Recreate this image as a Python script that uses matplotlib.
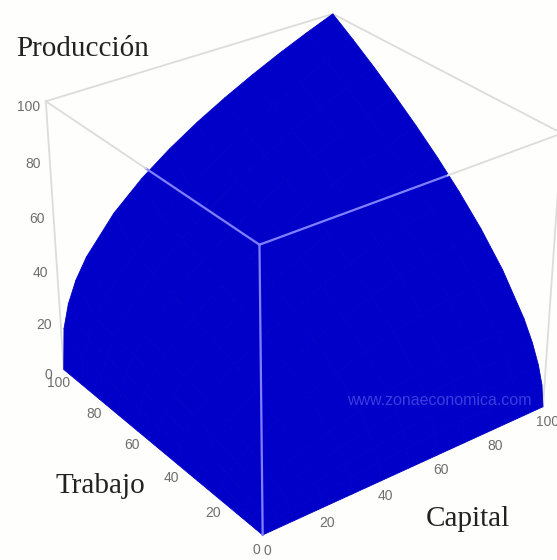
import matplotlib
matplotlib.use('Agg')
import matplotlib.pyplot as plt
import numpy as np

capital = [0, 1, 3, 6, 10, 20, 30, 40, 50, 60, 70, 80, 90, 100]
trabajo = [0, 1, 3, 6, 10, 20, 30, 40, 50, 60, 70, 80, 90, 100]
# produccion[trabajo][capital]
produccion = [
    [0, 0, 0, 0, 0, 0, 0, 0, 0, 0, 0, 0, 0, 0],
    [0, 1.0, 1.7, 2.5, 3.2, 4.5, 5.5, 6.3, 7.1, 7.7, 8.4, 7.5, 7.5, 7.9],
    [0, 1.7, 3.0, 4.2, 5.5, 7.7, 9.5, 10.9, 12.2, 13.4, 13.6, 13.7, 13.8, 14.5],
    [0, 2.5, 4.2, 6.0, 7.7, 11.0, 13.4, 15.5, 17.3, 19.0, 19.8, 20.0, 20.2, 21.3],
    [0, 3.2, 5.5, 7.7, 10, 14.1, 17.3, 20, 22.4, 24.5, 26.0, 26.4, 26.8, 28.2],
    [0, 4.5, 7.7, 11, 14.1, 20, 24.5, 28.3, 31.6, 34.6, 37.0, 38.5, 39.2, 41.3],
    [0, 5.5, 9.5, 13.4, 17.3, 24.5, 30, 34.6, 38.7, 42.4, 45.8, 47.5, 49, 51.6],
    [0, 6.3, 10.9, 15.5, 20, 28.3, 34.6, 40, 44.7, 49, 52.9, 55.5, 57.4, 60.4],
    [0, 7.1, 12.2, 17.3, 22.4, 31.6, 38.7, 44.7, 50, 54.8, 59.2, 62.5, 64.9, 68.3],
    [0, 7.7, 13.4, 19, 24.5, 34.6, 42.4, 49, 54.8, 60, 64.8, 69.3, 71.7, 75.5],
    [0, 8.4, 14.5, 20.5, 26.5, 37.4, 45.8, 52.9, 59.2, 64.8, 70, 74.8, 78.1, 82.2],
    [0, 8.9, 15.5, 21.9, 28.3, 40, 49, 56.6, 63.2, 69.3, 74.8, 80, 84.1, 88.5],
    [0, 9.5, 16.4, 23.2, 30, 42.4, 52, 60, 67.1, 73.5, 79.4, 84.9, 90, 94.4],
    [0, 15.8, 24.6, 32.5, 39.8, 52.5, 61.8, 69.3, 75.8, 81.5, 86.7, 91.5, 95.9, 100],
]
ticks = [0, 20, 40, 60, 80, 100]

# where the upper box edges leave the surface
corte_trabajo = 50
corte_capital = 60

bg = '#fefefc'
gris = '#dcdcdc'
claro = '#8080ff'

fig = plt.figure(figsize=(5.57, 5.60), dpi=100, facecolor=bg)
ax = fig.add_axes([14 / 557, 15 / 560, 1, 1], projection='3d', computed_zorder=False, facecolor=bg)
ax.view_init(elev=30, azim=-127)
ax.set_proj_type('persp', focal_length=0.7)
ax.set_box_aspect((1, 1, 0.88), zoom=1.03)

X, Y = np.meshgrid(capital, trabajo)
ax.plot_surface(X, Y, np.array(produccion), color='#0000c8', shade=False,
                edgecolor='#0000c8', linewidth=0.6, rstride=1, cstride=1, zorder=1)

# box edges, grey on the paper and light blue over the surface
ax.plot([0, 0], [0, 0], [0, 100], color=claro, lw=1.6, zorder=3)
ax.plot([0, 0], [0, corte_trabajo], [100, 100], color=claro, lw=1.6, zorder=3)
ax.plot([0, corte_capital], [0, 0], [100, 100], color=claro, lw=1.6, zorder=3)
ax.plot([0, 0], [corte_trabajo, 100], [100, 100], color=gris, lw=1.3, zorder=3)
ax.plot([corte_capital, 100], [0, 0], [100, 100], color=gris, lw=1.3, zorder=3)
ax.plot([0, 100], [100, 100], [100, 100], color=gris, lw=1.3, zorder=0)
ax.plot([100, 100], [0, 100], [100, 100], color=gris, lw=1.3, zorder=0)
ax.plot([0, 0], [100, 100], [0, 100], color=gris, lw=1.3, zorder=0)
ax.plot([100, 100], [0, 0], [0, 100], color=gris, lw=1.3, zorder=0)

ax.set_xlim(0, 100)
ax.set_ylim(0, 100)
ax.set_zlim(0, 100)
ax.set_xticks(ticks)
ax.set_yticks(ticks)
ax.set_zticks(ticks)
ax.grid(False)
for axis in (ax.xaxis, ax.yaxis, ax.zaxis):
    axis.set_pane_color((1, 1, 1, 0))
    axis.line.set_color((1, 1, 1, 0))
    axis._axinfo['tick']['inward_factor'] = 0
    axis._axinfo['tick']['outward_factor'] = 0
    axis.set_tick_params(labelsize=10, labelcolor='#6e6e6e', pad=-4)
    for lab in axis.get_ticklabels():
        lab.set_family('Liberation Sans')
ax.zaxis.set_tick_params(pad=-1)

fig.text(16 / 557, 1 - 56 / 560, 'Producción', family='Liberation Serif', fontsize=21, color='#222222')
fig.text(55 / 557, 1 - 493 / 560, 'Trabajo', family='Liberation Serif', fontsize=21, color='#222222')
fig.text(426 / 557, 1 - 526 / 560, 'Capital', family='Liberation Serif', fontsize=21, color='#222222')
fig.text(347 / 557, 1 - 405 / 560, 'www.zonaeconomica.com', family='Liberation Sans', fontsize=11.5,
         color='#3c3ce0')

fig.savefig('out.png', dpi=100, facecolor=bg)
